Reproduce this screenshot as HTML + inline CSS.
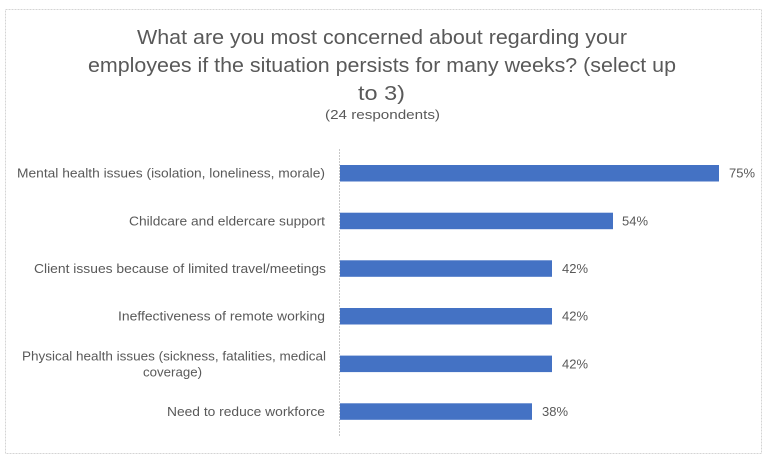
<!DOCTYPE html>
<html>
<head>
<meta charset="utf-8">
<style>
  html, body { margin: 0; padding: 0; background: #ffffff; }
  body { width: 768px; height: 462px; overflow: hidden; }
  svg { display: block; }
  text { font-family: "Liberation Sans", sans-serif; fill: #595959; }
</style>
</head>
<body>
<svg width="768" height="462" viewBox="0 0 768 462" xmlns="http://www.w3.org/2000/svg">
  <rect x="0" y="0" width="768" height="462" fill="#ffffff"/>
  <rect x="5.5" y="9.5" width="756" height="444" fill="none" stroke="#d4d4d4" stroke-width="1" stroke-dasharray="2,1"/>

  <!-- Title -->
  <text x="137" y="44" font-size="20.5" textLength="490" lengthAdjust="spacingAndGlyphs">What are you most concerned about regarding your</text>
  <text x="88" y="72" font-size="20.5" textLength="588" lengthAdjust="spacingAndGlyphs">employees if the situation persists for many weeks? (select up</text>
  <text x="358" y="100" font-size="20.5" textLength="47" lengthAdjust="spacingAndGlyphs">to 3)</text>
  <text x="325" y="119" font-size="12.5" textLength="115" lengthAdjust="spacingAndGlyphs">(24 respondents)</text>

  <!-- Axis -->
  <line x1="339.5" y1="149" x2="339.5" y2="437" stroke="#c8c8c8" stroke-width="1" stroke-dasharray="2,1"/>

  <!-- Bars -->
  <g fill="#4472C4">
    <rect x="340" y="165" width="379" height="16.5"/>
    <rect x="340" y="212.7" width="273" height="16.5"/>
    <rect x="340" y="260.3" width="212" height="16.5"/>
    <rect x="340" y="308" width="212" height="16.5"/>
    <rect x="340" y="355.6" width="212" height="16.5"/>
    <rect x="340" y="403.3" width="192" height="16.5"/>
  </g>

  <!-- Value labels -->
  <g font-size="12.5">
    <text x="729" y="177.7" textLength="26" lengthAdjust="spacingAndGlyphs">75%</text>
    <text x="622" y="225.4" textLength="26" lengthAdjust="spacingAndGlyphs">54%</text>
    <text x="562" y="273" textLength="26" lengthAdjust="spacingAndGlyphs">42%</text>
    <text x="562" y="320.7" textLength="26" lengthAdjust="spacingAndGlyphs">42%</text>
    <text x="562" y="368.3" textLength="26" lengthAdjust="spacingAndGlyphs">42%</text>
    <text x="542" y="416" textLength="26" lengthAdjust="spacingAndGlyphs">38%</text>
  </g>

  <!-- Category labels -->
  <g font-size="12.5">
    <text x="17" y="177.7" textLength="308" lengthAdjust="spacingAndGlyphs">Mental health issues (isolation, loneliness, morale)</text>
    <text x="129" y="225.4" textLength="196" lengthAdjust="spacingAndGlyphs">Childcare and eldercare support</text>
    <text x="34" y="273" textLength="292" lengthAdjust="spacingAndGlyphs">Client issues because of limited travel/meetings</text>
    <text x="118" y="320.7" textLength="207" lengthAdjust="spacingAndGlyphs">Ineffectiveness of remote working</text>
    <text x="22" y="360.5" textLength="304" lengthAdjust="spacingAndGlyphs">Physical health issues (sickness, fatalities, medical</text>
    <text x="143" y="376.5" textLength="59" lengthAdjust="spacingAndGlyphs">coverage)</text>
    <text x="167" y="416" textLength="158" lengthAdjust="spacingAndGlyphs">Need to reduce workforce</text>
  </g>
</svg>
</body>
</html>
